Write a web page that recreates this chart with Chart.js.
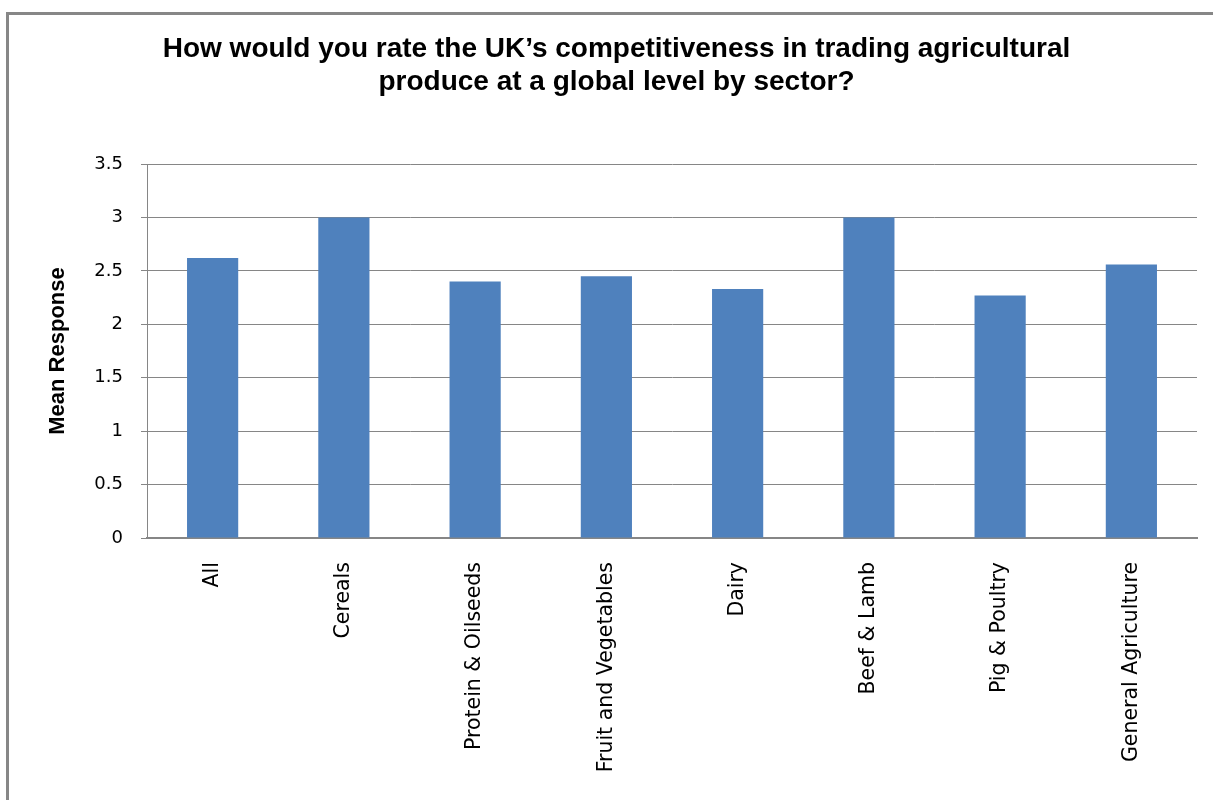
<!DOCTYPE html>
<html>
<head>
<meta charset="utf-8">
<script src="https://cdn.jsdelivr.net/npm/chart.js@4.4.1/dist/chart.umd.min.js"></script>
<style>
  html, body { margin: 0; padding: 0; background: #fff; overflow: hidden; }
  #frame { position: absolute; left: 6px; top: 12px; width: 1400px; height: 1000px;
    border-left: 3px solid #878787; border-top: 3px solid #878787; }
  #wrap { position: absolute; left: 0; top: 0; width: 1213px; height: 800px; }
</style>
</head>
<body>
<div id="frame"></div>
<div id="wrap"><canvas id="chart" width="1213" height="800"></canvas></div>
<script>
  // ---- data ----
  const sectors = ["All", "Cereals", "Protein & Oilseeds", "Fruit and Vegetables", "Dairy", "Beef & Lamb", "Pig & Poultry", "General Agriculture"];
  const meanResponse = [2.62, 3.0, 2.4, 2.45, 2.33, 3.0, 2.27, 2.56];
  const yTicks = [0, 0.5, 1, 1.5, 2, 2.5, 3, 3.5];
  const titleLines = ["How would you rate the UK\u2019s competitiveness in trading agricultural", "produce at a global level by sector?"];

  const GRID = "#868686";
  const BAR = "#4F81BD";

  // the original title sits a little right of the canvas centre
  const titleShift = {
    id: "titleShift",
    afterLayout(chart) {
      if (chart.titleBlock) chart.titleBlock.left += 36;
    },
  };

  new Chart(document.getElementById("chart").getContext("2d"), {
    type: "bar",
    data: {
      labels: sectors,
      datasets: [{ label: "Mean Response", data: meanResponse, backgroundColor: BAR, borderWidth: 0,
        barPercentage: 0.39, categoryPercentage: 1 }],
    },
    plugins: [titleShift],
    options: {
      responsive: false,
      animation: false,
      layout: { padding: { left: 0, right: 16, top: 0, bottom: 0 } },
      plugins: {
        legend: { display: false },
        tooltip: { enabled: false },
        title: {
          display: true, text: titleLines, color: "#000",
          font: { family: "'Liberation Sans', Arial, sans-serif", size: 28, weight: "bold", lineHeight: 1.2 },
          padding: { top: 32, bottom: 64.8 },
        },
      },
      scales: {
        x: {
          grid: { display: false, drawTicks: false },
          border: { display: true, color: GRID, width: 2 },
          ticks: { color: "#000", maxRotation: 90, minRotation: 90, autoSkip: false, padding: 24,
            font: { family: "'DejaVu Sans', Verdana, sans-serif", size: 20.5 } },
          afterFit: (s) => { s.height = 262; },
        },
        y: {
          min: 0, max: 3.5,
          afterBuildTicks: (s) => { s.ticks = yTicks.map((v) => ({ value: v })); },
          grid: { color: GRID, lineWidth: 1, drawTicks: true, tickLength: 6 },
          border: { display: true, color: GRID, width: 1 },
          ticks: { color: "#000", padding: 18, callback: (v) => String(v),
            font: { family: "'DejaVu Sans', Verdana, sans-serif", size: 18 } },
          title: { display: true, text: "Mean Response", color: "#000", padding: { top: 45, bottom: 0 },
            font: { family: "'Liberation Sans', Arial, sans-serif", size: 22, weight: "bold", lineHeight: 1.2 } },
          afterFit: (s) => { s.width = 147; },
        },
      },
    },
  });
</script>
</body>
</html>
